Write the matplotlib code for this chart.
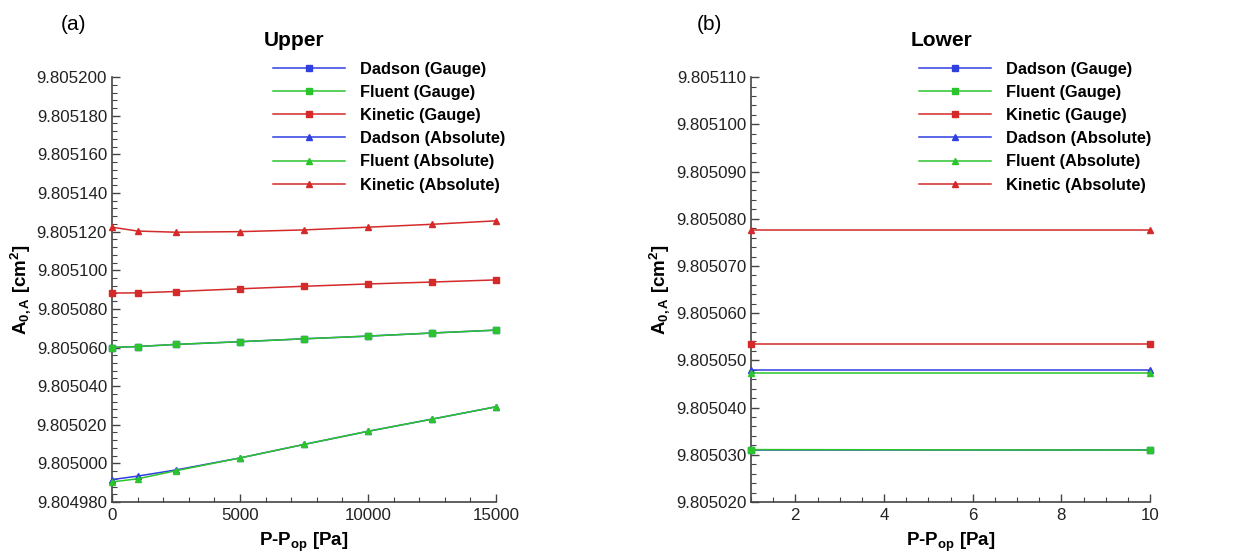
import matplotlib
matplotlib.use("Agg")
import matplotlib.pyplot as plt
from matplotlib.ticker import MultipleLocator, FormatStrFormatter

plt.rcParams["font.family"] = ["Liberation Sans", "DejaVu Sans"]
plt.rcParams["mathtext.fontset"] = "custom"
plt.rcParams["mathtext.rm"] = "Liberation Sans:bold"
plt.rcParams["mathtext.bf"] = "Liberation Sans:bold"
plt.rcParams["mathtext.it"] = "Liberation Sans:bold"
plt.rcParams["mathtext.default"] = "bf"

# (a) upper: pressure offsets in Pa and A_0,A in cm^2
upper_p = [0, 1000, 2500, 5000, 7500, 10000, 12500, 15000]
upper_dadson_gauge = [9.8050600, 9.8050605, 9.8050616, 9.8050630, 9.8050645, 9.8050659, 9.8050675, 9.8050690]
upper_fluent_gauge = [9.8050600, 9.8050605, 9.8050616, 9.8050630, 9.8050645, 9.8050659, 9.8050675, 9.8050690]
upper_kinetic_gauge = [9.8050882, 9.8050883, 9.8050890, 9.8050904, 9.8050917, 9.8050929, 9.8050939, 9.8050950]
upper_dadson_abs = [9.8049916, 9.8049934, 9.8049966, 9.8050028, 9.8050098, 9.8050166, 9.8050229, 9.8050293]
upper_fluent_abs = [9.8049904, 9.8049920, 9.8049962, 9.8050028, 9.8050098, 9.8050166, 9.8050229, 9.8050293]
upper_kinetic_abs = [9.8051223, 9.8051203, 9.8051197, 9.8051200, 9.8051209, 9.8051223, 9.8051238, 9.8051256]

# (b) lower
lower_p = [1, 10]
lower_dadson_gauge = [9.8050310, 9.8050310]
lower_fluent_gauge = [9.8050311, 9.8050310]
lower_kinetic_gauge = [9.8050535, 9.8050535]
lower_dadson_abs = [9.8050480, 9.8050480]
lower_fluent_abs = [9.8050473, 9.8050473]
lower_kinetic_abs = [9.8050777, 9.8050777]

labels = ["Dadson (Gauge)", "Fluent (Gauge)", "Kinetic (Gauge)",
          "Dadson (Absolute)", "Fluent (Absolute)", "Kinetic (Absolute)"]
colors = ["#2f3fe0", "#2cc42c", "#d42a2a"] * 2
markers = ["s", "s", "s", "^", "^", "^"]

upper_series = [upper_dadson_gauge, upper_fluent_gauge, upper_kinetic_gauge,
                upper_dadson_abs, upper_fluent_abs, upper_kinetic_abs]
lower_series = [lower_dadson_gauge, lower_fluent_gauge, lower_kinetic_gauge,
                lower_dadson_abs, lower_fluent_abs, lower_kinetic_abs]

fig = plt.figure(figsize=(12.54, 5.55), dpi=100)
fig.patch.set_facecolor("white")
ax_a = fig.add_axes([0.0893, 0.0955, 0.3062, 0.7655])
ax_b = fig.add_axes([0.5989, 0.0955, 0.3182, 0.7655])


def draw_panel(ax, xs, series, title, title_x, legend_x):
    for ys, label, color, marker in zip(series, labels, colors, markers):
        ax.plot(xs, ys, color=color, marker=marker, markersize=5, linewidth=1.1,
                label=label, clip_on=False, zorder=3)
    for side in ("top", "right"):
        ax.spines[side].set_visible(False)
    for side in ("left", "bottom"):
        ax.spines[side].set_color("#444444")
        ax.spines[side].set_linewidth(1.2)
    ax.tick_params(which="both", direction="in", colors="#444444", labelcolor="#222222",
                   labelsize=12.2)
    ax.tick_params(which="major", length=6, width=1)
    ax.tick_params(which="minor", length=3.5, width=0.8)
    ax.tick_params(axis="x", pad=4)
    ax.yaxis.set_major_formatter(FormatStrFormatter("%.6f"))
    ax.set_xlabel("P-P$_{op}$ [Pa]", fontsize=13.5, fontweight="bold", labelpad=6)
    ax.set_ylabel("A$_{0,A}$ [cm$^{2}$]", fontsize=13.5, fontweight="bold", labelpad=3)
    fig.text(title_x, 0.927, title, fontsize=15, fontweight="bold", ha="center", va="center")
    ax.legend(loc="upper left", bbox_to_anchor=(legend_x, 0.889), bbox_transform=fig.transFigure,
              frameon=False, handlelength=4.4, handletextpad=0.9,
              labelspacing=0.5, borderaxespad=0, borderpad=0,
              prop={"weight": "bold", "size": 11.8})


draw_panel(ax_a, upper_p, upper_series, "Upper", 0.2345, 0.2177)
ax_a.set_xlim(0, 15000)
ax_a.set_ylim(9.804980, 9.805200)
ax_a.xaxis.set_major_locator(MultipleLocator(5000))
ax_a.xaxis.set_minor_locator(MultipleLocator(1000))
ax_a.yaxis.set_major_locator(MultipleLocator(0.00002))
ax_a.yaxis.set_minor_locator(MultipleLocator(0.000004))

draw_panel(ax_b, lower_p, lower_series, "Lower", 0.7504, 0.7329)
ax_b.set_xlim(1, 10)
ax_b.set_ylim(9.805020, 9.805110)
ax_b.xaxis.set_major_locator(MultipleLocator(2))
ax_b.xaxis.set_minor_locator(MultipleLocator(0.5))
ax_b.yaxis.set_major_locator(MultipleLocator(0.00001))
ax_b.yaxis.set_minor_locator(MultipleLocator(0.000002))

fig.text(0.059, 0.956, "(a)", fontsize=15, ha="center", va="center")
fig.text(0.566, 0.956, "(b)", fontsize=15, ha="center", va="center")

fig.savefig("out.png", dpi=100)
